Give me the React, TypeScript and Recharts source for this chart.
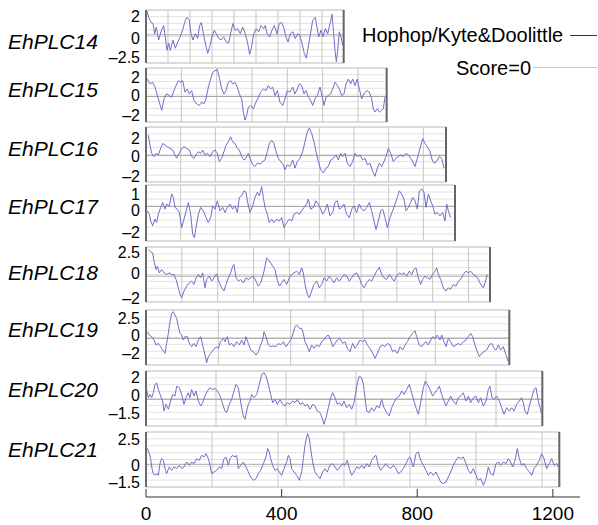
import { LineChart, Line, XAxis, YAxis, ReferenceLine, ReferenceArea } from "recharts";

type Pt = [number, number];

// hydropathy profiles, [position, score]
const plc14: Pt[] = [
  [3, 2.3], [8, 1.7], [15, 1.2], [21, 1.1], [26, 0.1], [31, 0.75], [38, -0.5], [45, 0.3], [53, 0.9], [58, -0.2],
  [63, -1.5], [68, -0.8], [73, -1.5], [81, -0.5], [88, -1.3], [95, -0.7], [103, -0.2], [111, 0.6], [118, 1.4], [123, 1.7],
  [130, 1.4], [135, 0.1], [141, -0.5], [148, 0.1], [155, -0.35], [161, 0.9], [166, 1.2], [171, 0.3], [178, -0.8], [185, -1.8],
  [191, -1.15], [198, -0.2], [205, 0.45], [211, 0.1], [218, -0.35], [225, -0.5], [233, -0.2], [241, -0.7], [248, -0.8], [255, 0.3],
  [261, 1.1], [268, 0.45], [275, 0.6], [283, 0.1], [290, 0.75], [298, 0.1], [305, -0.8], [311, -1.9], [316, -1.3], [323, 0.1],
  [331, 0.6], [338, 0.3], [345, 0.9], [353, 0.6], [358, 0.9], [363, 0.1], [371, -0.2], [378, 0.45], [385, 0.9], [393, 0.1],
  [400, 1.1], [406, 1.2], [413, 0.75], [420, -0.2], [426, -0.7], [433, 0.1], [441, 0.3], [448, -0.35], [455, 0.1], [461, 0],
  [468, -0.8], [475, -1.8], [481, -2.25], [486, -1.3], [493, 0], [500, 1.4], [508, 1.7], [513, 0.75], [518, -0.2], [525, 0.45],
  [531, -0.2], [538, 0.6], [545, 0.1], [553, 1.2], [558, 2.0], [563, 0.1], [567, -1.5], [571, -2.6], [575, -1.5], [580, 0.3],
  [585, -0.2], [590, -1.0],
];

const plc15: Pt[] = [
  [4, 1.85], [12, 1.33], [20, 1.5], [27, 1.0], [34, 0.1], [40, -0.6], [47, -1.47], [54, -0.25], [62, 0.28], [70, 0.1],
  [77, -0.07], [82, 0.46], [90, 1.16], [97, 1.68], [104, 1.5], [110, 1.68], [117, 0.46], [124, 0.8], [130, 0.28], [137, 0.63],
  [144, -0.42], [152, -0.77], [160, -0.95], [167, -0.6], [174, -0.77], [180, -0.25], [187, 1.0], [194, 1.85], [200, 2.56], [207, 2.74],
  [214, 2.84], [220, 2.03], [227, 0.8], [234, 0.28], [240, 0.63], [247, 1.5], [254, 1.68], [260, 1.33], [267, 1.5], [274, 1.0],
  [280, 0.28], [287, -0.25], [292, -1.65], [297, -2.5], [302, -2.0], [307, -1.12], [314, -0.95], [322, -1.3], [330, -0.6], [337, -0.07],
  [344, 0.46], [352, 0.8], [360, 0.63], [367, 1.16], [374, 0.8], [380, 1.0], [387, 0.1], [394, 0.63], [402, -0.6], [410, -0.95],
  [417, -0.25], [424, 0.63], [432, 0.46], [440, 1.0], [447, 0.28], [454, 0.8], [460, 1.33], [467, 1.16], [474, 0.28], [480, 0.63],
  [487, -0.07], [494, -0.42], [500, -0.95], [507, -0.25], [514, 0.1], [522, 1.0], [530, -0.25], [534, -0.95], [540, -0.07], [547, 0.1],
  [554, 0.28], [562, 1.0], [567, 1.5], [574, 1.16], [580, 0.8], [587, 0.1], [594, 0.28], [600, 1.33], [607, 1.85], [614, 1.33],
  [620, 1.85], [627, 1.16], [634, 1.85], [640, 0.8], [647, -0.25], [654, 0.28], [662, 0.63], [670, 0.46], [677, -0.25], [682, -1.3],
  [687, -1.65], [694, -1.3], [700, -1.65], [707, -1.47], [712, -1.3], [717, -0.07],
];

const plc16: Pt[] = [
  [7, 2.18], [12, 1.12], [17, 0.25], [24, -0.1], [30, 0.25], [37, 0.07], [44, 0.77], [50, 1.3], [57, 1.12], [64, 0.95],
  [72, 0.77], [80, 0.6], [87, 0.07], [92, -0.28], [100, 0.25], [107, 0.77], [114, 0.95], [122, 0.77], [130, 0.6], [137, -0.1],
  [144, -0.28], [150, 0.07], [157, 0.42], [164, 0.25], [170, 0.6], [177, 0.07], [184, 0.25], [192, -0.1], [200, 0.42], [207, 0.6],
  [214, 0.25], [220, -0.63], [227, -0.28], [234, 0.42], [240, 1.12], [247, 1.47], [254, 2.0], [260, 1.47], [267, 1.3], [274, 0.77],
  [280, 0.6], [287, -0.1], [294, -0.46], [300, -0.28], [307, 0.25], [312, -0.28], [320, -0.98], [327, -1.16], [334, -0.8], [342, -0.9],
  [350, -0.63], [357, -0.46], [364, 0.42], [370, 1.3], [377, 1.65], [384, 1.3], [390, 0.42], [397, -0.28], [404, -0.63], [412, -0.98],
  [417, -1.5], [424, -0.98], [432, -1.16], [440, -0.46], [447, -1.33], [454, -0.63], [462, -0.28], [470, 0.42], [477, 1.47], [484, 2.53],
  [490, 2.95], [497, 2.35], [504, 1.47], [510, 0.42], [517, -0.63], [524, -1.5], [532, -1.86], [540, -1.33], [547, -1.16], [554, -0.46],
  [562, -0.28], [570, 0.07], [577, -0.46], [584, 0.25], [590, -0.1], [597, 0.25], [604, -0.8], [612, -1.16], [620, -0.63], [627, 0.25],
  [634, -0.1], [642, 0.07], [650, -0.46], [657, -0.28], [664, -0.98], [672, -0.8], [680, -1.68], [687, -2.2], [694, -1.33], [700, -0.8],
  [707, -1.16], [714, -0.63], [720, -0.1], [727, 0.77], [734, 0.25], [742, -0.63], [750, -0.28], [757, -0.1], [764, 0.07], [772, -0.1],
  [780, 0.25], [787, 0.07], [794, -0.28], [800, -0.63], [807, -1.16], [814, -0.28], [822, 0.77], [830, 1.82], [837, 1.3], [844, 0.95],
  [852, 0.42], [860, -0.63], [867, -0.8], [874, -0.46], [880, -0.1], [887, -0.28], [894, -1.33],
];

const plc17: Pt[] = [
  [4, -0.36], [10, -0.64], [14, -1.2], [20, -1.6], [27, -1.05], [32, -1.33], [37, -0.64], [44, -0.08], [50, 0.33], [57, -0.22],
  [62, 0.2], [70, 0.05], [77, 1.03], [82, 0.75], [87, -0.08], [94, -0.22], [100, -0.5], [107, -1.75], [114, -1.05], [122, -0.22],
  [127, 0.33], [134, -0.64], [140, -2.3], [145, -2.58], [150, -1.75], [157, -0.64], [164, -0.08], [172, -0.36], [180, -0.92], [187, -1.33],
  [194, -0.92], [200, 0.05], [207, -0.22], [214, 0.47], [222, -0.36], [230, -0.08], [237, -0.5], [244, -0.08], [252, 0.2], [260, -0.22],
  [267, 0.05], [274, -0.5], [280, 0.75], [287, 0.89], [294, 1.3], [300, 1.17], [304, 0.47], [312, -0.5], [320, 0.05], [327, 0.75],
  [334, 1.17], [340, 0.89], [347, 1.64], [352, 0.75], [357, -0.08], [364, -0.64], [370, -1.33], [377, -1.05], [384, -1.33], [392, -1.05],
  [400, -1.2], [407, -0.92], [414, -1.75], [422, -1.33], [430, -1.05], [437, -1.2], [444, -0.64], [452, -0.5], [460, -0.64], [467, -0.36],
  [474, -0.08], [482, 0.2], [487, 0.61], [494, -0.22], [502, -0.08], [510, 0.47], [517, 0.2], [524, -0.22], [530, -0.64], [537, -0.36],
  [544, 0.2], [552, -0.78], [560, -0.5], [567, 0.33], [574, 0.47], [580, -0.22], [587, -0.08], [594, 0.2], [602, -0.64], [610, -0.92],
  [617, -0.22], [624, 0.05], [632, -0.5], [640, 0.2], [647, -0.22], [654, -0.36], [662, -0.08], [670, 0.33], [677, -0.36], [684, -1.2],
  [690, -1.9], [697, -1.2], [704, -0.36], [710, -0.22], [717, -0.92], [724, -1.75], [732, -0.92], [740, -0.36], [747, 0.2], [754, 0.75],
  [760, 1.3], [767, 1.03], [774, 0.61], [780, -0.36], [787, -0.08], [794, 0.33], [800, 0.75], [807, 0.47], [814, -0.22], [820, 1.3],
  [827, 1.44], [834, 1.17], [840, -0.08], [847, 1.03], [854, 0.47], [860, 0.05], [867, -0.64], [874, -0.5], [882, -0.78], [890, -0.5],
  [897, -1.2], [902, 0.2], [907, -0.36], [914, -0.92],
];

const plc18: Pt[] = [
  [7, 2.67], [12, 2.5], [20, 2.33], [24, 1.5], [30, 0.67], [34, 1.0], [40, 0.33], [47, 0.67], [54, 0.33], [62, 0.17],
  [70, 0.33], [77, 0.17], [84, 0.17], [90, -0.33], [97, -1.17], [102, -1.83], [107, -2.17], [114, -1.5], [122, -1.0], [130, -0.67],
  [137, -0.5], [144, -0.83], [150, -0.17], [157, 0.17], [164, -0.17], [170, 0.33], [177, -1.17], [182, -0.33], [190, 0], [197, -0.5],
  [204, -0.17], [212, 0.23], [220, -0.67], [227, -1.17], [234, -1.5], [240, -0.83], [247, -0.17], [254, 0.33], [260, 1.0], [264, 1.17],
  [270, -0.17], [277, -0.5], [284, -0.33], [292, -0.67], [300, -0.17], [307, -0.33], [314, -0.17], [322, 0], [330, -0.5], [337, -1.0],
  [344, -0.67], [352, 0.17], [357, 1.0], [362, 1.83], [367, 1.67], [374, 1.33], [380, 1.0], [387, 0.67], [392, -0.17], [400, -1.0],
  [407, -0.67], [414, -0.33], [422, -0.83], [430, -0.17], [437, 0.17], [444, 0.33], [452, 0.5], [460, 0.17], [467, 0.83], [472, 0.33],
  [477, -0.83], [484, -1.83], [490, -2.17], [497, -1.5], [504, -0.83], [512, -0.5], [520, -1.17], [527, -0.83], [534, -0.17], [542, -0.5],
  [550, 0], [557, -0.33], [564, -0.67], [572, -0.17], [580, -0.5], [587, -0.17], [594, 0.17], [602, 0], [610, -0.5], [617, -0.17],
  [624, 0.17], [632, 0.33], [640, -0.17], [647, -0.83], [654, -1.17], [662, -0.67], [670, -0.33], [677, -0.5], [684, 0], [692, 0.5],
  [700, 0.9], [707, 0.17], [714, -0.17], [722, -0.33], [730, 0.17], [737, -0.17], [744, -0.5], [752, 0], [760, 0.33], [767, 0.17],
  [774, 0.33], [782, 0], [790, 0.5], [797, 0.17], [804, 0.67], [810, 0.83], [817, -0.17], [824, -0.83], [830, -0.33], [837, 0],
  [844, -0.17], [852, -0.33], [860, 0.17], [867, 0.5], [872, 0.83], [877, 0.17], [884, -0.33], [892, -1.17], [900, -1.5], [907, -1.17],
  [914, -1.33], [922, -0.83], [930, -1.0], [937, -0.5], [944, -0.33], [952, 0.17], [960, 0.5], [967, 0.33], [974, 0.5], [982, 0.17],
  [990, 0], [997, -0.33], [1004, -0.83], [1012, -1.17], [1017, -0.67], [1024, 0.17],
];

const plc19: Pt[] = [
  [4, 0.83], [10, 0.42], [17, 0.21], [24, -0.21], [30, -0.83], [37, -0.63], [44, -1.04], [50, -1.46], [57, -1.88], [62, -0.63],
  [67, 0.63], [72, 2.08], [77, 3.13], [82, 3.33], [87, 2.92], [92, 2.5], [97, 1.46], [102, 0.63], [107, 0.42], [112, -0.21],
  [117, 0.21], [124, 0.21], [130, -0.63], [137, -1.04], [144, -0.63], [150, -1.04], [157, -0.21], [164, 0.21], [170, -0.83], [177, -2.08],
  [182, -3.04], [187, -2.29], [194, -1.88], [202, -1.46], [210, -1.04], [217, -1.25], [224, -0.42], [232, 0], [237, -0.42], [244, 0.21],
  [250, -0.83], [257, -0.63], [264, -1.04], [272, -0.42], [280, -0.83], [287, -0.21], [294, -0.83], [300, 0.21], [307, -0.63], [314, -1.46],
  [322, -1.67], [330, -2.08], [337, -1.67], [344, -0.83], [350, -0.21], [354, 0.83], [360, 0.21], [367, -0.83], [374, -1.04], [382, -0.96],
  [390, -1.04], [397, -0.63], [404, -0.83], [412, -0.42], [420, -1.04], [427, -0.63], [434, -0.21], [440, 0.42], [447, 1.46], [452, 1.67],
  [460, 1.25], [467, 1.25], [472, 0.63], [477, -0.42], [484, -1.04], [490, -1.67], [497, -0.83], [504, -1.25], [512, -0.83], [520, -1.04],
  [527, -0.42], [534, -0.21], [540, 0.21], [547, 0.42], [554, -0.21], [560, -1.04], [567, -0.63], [574, -0.21], [582, 0], [590, -0.63],
  [597, -0.42], [604, -1.25], [612, -1.67], [620, -0.63], [627, -1.25], [634, -0.83], [642, -0.21], [650, -0.42], [657, -0.21], [664, -0.83],
  [672, -1.25], [680, -1.88], [687, -2.5], [694, -1.88], [702, -1.04], [710, -0.83], [717, -1.04], [724, -0.63], [732, -0.83], [740, -1.67],
  [747, -1.46], [754, -1.88], [762, -1.04], [770, -1.46], [777, -0.83], [784, -0.42], [792, 0.21], [800, 0.63], [807, 0.96], [812, 0.21],
  [820, -0.83], [827, -1.04], [834, -0.63], [840, -0.42], [847, -0.83], [854, -0.21], [860, 0.21], [867, 0], [874, 0.42], [882, -0.21],
  [887, 0.42], [894, -0.42], [900, -1.04], [907, 0], [914, -0.42], [922, -1.04], [930, -0.83], [937, -0.63], [944, -0.83], [952, -0.42],
  [960, -0.21], [967, 0.21], [974, 0.63], [980, 0.21], [987, -0.83], [994, -1.67], [1000, -2.29], [1007, -1.88], [1014, -1.67], [1022, -1.46],
  [1030, -0.83], [1037, -0.63], [1044, -1.25], [1050, -1.46], [1057, -0.83], [1064, -1.46], [1072, -1.04], [1080, -2.08], [1087, -2.92],
];

const plc20: Pt[] = [
  [2, 0.9], [7, 0.15], [12, 0.45], [17, 0.15], [22, 0.6], [27, 1.36], [32, 1.5], [37, 0.9], [44, 0.3], [50, -0.15],
  [54, -1.06], [60, -0.45], [67, -0.9], [74, -0.15], [80, 0.45], [87, 0.3], [92, 1.2], [100, 1.06], [107, 0.45], [114, -0.45],
  [120, 0.15], [127, 0.6], [132, 0.15], [137, 0.9], [144, 0.3], [150, 0.76], [157, -0.15], [164, -0.6], [170, -0.3], [177, 0.3],
  [184, 0.76], [192, 1.06], [200, 0.9], [207, 1.0], [214, 0.76], [220, 0.45], [227, -0.15], [232, -0.6], [237, -1.06], [242, -1.2],
  [250, -0.45], [257, 0], [264, 0.76], [270, 1.36], [277, 1.06], [282, 0.15], [287, -0.76], [292, -1.5], [297, -1.8], [302, -1.06],
  [307, -0.45], [312, -0.15], [317, 0.45], [324, 0.15], [332, 0.45], [340, 1.36], [347, 2.27], [354, 2.42], [360, 2.12], [367, 1.36],
  [374, 0.45], [380, -0.3], [387, 0], [394, -0.45], [402, 0], [410, -0.45], [417, -0.6], [424, -0.3], [432, -0.45], [440, -0.15],
  [447, -0.3], [454, 0], [462, -0.45], [470, -0.3], [477, -0.6], [484, -0.45], [492, -0.9], [500, -0.45], [507, -0.6], [514, -1.06],
  [522, -1.2], [530, -1.8], [534, -2.27], [540, -1.67], [547, -0.76], [554, 0.15], [560, 0.6], [567, 0.15], [574, -0.45], [580, -0.3],
  [587, -0.6], [594, -0.15], [602, -0.76], [610, -0.45], [617, -0.9], [624, -0.3], [630, 0.76], [634, 1.5], [640, 2.12], [647, 1.97],
  [652, 1.36], [657, 0.15], [662, -1.06], [670, -1.2], [677, -0.76], [684, -1.06], [692, -0.6], [700, -0.76], [707, 0], [714, -0.76],
  [722, -1.2], [730, -1.5], [737, -0.76], [744, -0.3], [752, 0.15], [760, 0.3], [767, 0.76], [774, 0.45], [782, 0.9], [790, 1.36],
  [797, 0.6], [804, -0.15], [810, -0.76], [817, -1.36], [824, -0.3], [832, 1.06], [838, 1.67], [844, 1.36], [852, 0.9], [860, 0.3],
  [867, 0.6], [874, 0.9], [880, 1.2], [887, 0.45], [894, -0.15], [900, -0.6], [907, -0.15], [914, 0.3], [922, -0.15], [930, -0.45],
  [937, 0.15], [944, 0.3], [952, 0.6], [960, -0.15], [967, 0.3], [974, -0.3], [982, 0.15], [990, 0.3], [997, -0.3], [1004, 0.15],
  [1012, -0.6], [1020, -0.15], [1027, 0.9], [1032, 1.2], [1038, 0.15], [1044, 0], [1052, 0.3], [1060, -0.15], [1067, -0.76], [1074, -1.36],
  [1082, -0.76], [1090, -1.06], [1097, -0.76], [1104, -1.06], [1112, -0.45], [1120, -0.15], [1127, 0.15], [1132, -0.3], [1137, -1.06], [1144, -1.36],
  [1150, -0.6], [1157, 0.15], [1164, 0.9], [1170, 1.06], [1177, -0.15], [1182, -0.76], [1187, -1.36],
];

const plc21: Pt[] = [
  [0, 1.73], [4, 1.57], [10, 1.07], [14, 0.57], [18, -0.43], [22, -0.93], [27, -1.1], [32, -0.93], [37, -1.1], [42, 0.07],
  [47, 0.57], [52, 0.4], [57, -0.43], [62, -0.93], [70, -0.27], [77, -0.6], [84, -0.27], [92, -0.43], [100, -0.1], [107, -0.43],
  [114, -0.27], [122, 0.23], [130, -0.1], [137, 0.23], [144, 0.07], [152, 0.57], [160, 0.4], [167, 0.9], [174, 0.73], [180, 1.07],
  [187, 0.57], [192, -0.1], [197, -0.93], [204, -0.77], [212, -0.6], [220, -0.27], [227, -0.43], [234, 0.57], [240, 0.73], [247, -0.1],
  [252, 0.57], [260, 0.9], [267, 0.73], [272, 0.9], [277, -0.43], [284, -0.1], [292, 0.23], [300, -0.27], [307, -0.77], [314, -1.27],
  [322, -1.6], [330, -1.43], [337, -0.93], [344, -0.6], [352, 0.07], [360, 0.73], [365, 1.57], [370, 1.23], [374, 0.57], [380, -0.1],
  [387, -0.6], [394, -0.43], [400, -0.77], [407, -1.1], [414, -0.43], [422, 0.23], [427, 0.9], [432, 0.57], [437, -0.43], [444, -0.77],
  [452, -1.1], [460, -1.6], [467, -0.77], [472, 0.57], [477, 1.9], [482, 2.73], [485, 3.07], [490, 2.57], [494, 1.57], [500, 0.23],
  [507, -0.77], [514, -1.1], [522, -1.43], [530, -0.77], [537, -0.43], [544, -0.77], [552, -0.1], [560, 0.07], [567, -0.27], [574, -0.6],
  [582, -0.27], [590, 0.07], [597, -0.1], [604, 0.4], [610, -0.43], [617, -1.1], [624, -0.77], [632, -0.27], [640, -0.43], [647, -0.1],
  [654, -0.43], [662, 0.07], [670, -0.27], [677, 0.4], [684, 0.73], [690, 0.9], [697, -0.1], [704, -0.6], [712, -0.27], [720, 0.07],
  [727, -0.27], [734, -0.43], [742, -0.1], [750, -0.43], [757, -0.93], [764, -0.77], [772, -0.43], [780, 0.07], [787, 0.57], [792, 0.73],
  [797, 0.23], [802, -0.27], [810, 1.07], [817, 1.23], [824, 0.4], [832, -0.1], [840, -0.6], [847, -1.1], [854, -0.77], [862, -1.1],
  [870, -0.77], [877, -1.27], [884, -1.77], [892, -1.93], [900, -1.77], [907, -1.27], [914, -0.77], [922, -0.1], [930, 0.4], [937, 0.73],
  [944, 0.57], [952, 0.73], [960, 0.07], [967, -0.6], [974, -0.93], [982, -0.43], [990, -1.1], [997, -1.6], [1004, -1.43], [1012, -2.1],
  [1020, -1.43], [1027, -0.27], [1034, -0.93], [1042, -1.1], [1050, 0.07], [1057, 0.23], [1064, -0.1], [1072, 0.23], [1080, 0.07], [1087, 0.57],
  [1094, 0.23], [1100, -0.27], [1107, 0.4], [1114, 1.57], [1120, 0.57], [1127, -0.1], [1134, 0.07], [1142, -0.43], [1150, -0.77], [1157, -1.1],
  [1164, -0.43], [1172, -0.1], [1180, 0.4], [1187, 1.07], [1194, 0.57], [1202, -0.43], [1210, 0.07], [1217, 0.57], [1224, -0.1], [1232, 0.07],
  [1237, -0.27],
];

const names = ["EhPLC14", "EhPLC15", "EhPLC16", "EhPLC17", "EhPLC18", "EhPLC19", "EhPLC20", "EhPLC21"];
const profiles = [plc14, plc15, plc16, plc17, plc18, plc19, plc20, plc21];
const lengths = [593, 722, 900, 927, 1032, 1090, 1189, 1240];
const yTicks = [[2, 0, -2.5], [2, 0, -2], [2, 0, -2], [1, 0, -2], [2.5, 0, -2], [2.5, 0, -2], [2, 0, -1.5], [2.5, 0, -1.5]];
const yDomains = [[-2.73, 2.41], [-2.7, 3.02], [-2.81, 3.05], [-2.86, 1.78], [-2.6, 2.93], [-3.33, 3.54], [-2.42, 2.58], [-2.27, 3.23]];
const axisTicks = [0, 400, 800, 1200];

// layout (px)
const panelTops = [10, 68, 127, 185, 247, 310, 371, 432];
const panelHeights = [53, 54, 55, 56, 55, 55, 55, 55];
const labelCenters = [42, 90, 149, 207, 273, 330, 390, 450];
const tickNudge = [[2, 3, -3], [0, -1, 0], [1, 1, 2], [0, 4, 2], [1, -3, 2], [0, -3, -1], [0, -4, -3], [0, 1, 3]];
const gridSteps = [66, 106, 104, 104, 107.5, 217, 210, 198];
const AXIS_W = 146;
const PAD = 12;
const FONT = "'Liberation Sans', Arial, sans-serif";
const LINE = "#6e6ec8";

const fmt = (v: number) => (v < 0 ? "\u2013" + Math.abs(v) : String(v));

function YTick(props: any) {
  const { x, y, payload, panel } = props;
  const k = yTicks[panel].indexOf(payload.value);
  const dy = k >= 0 ? tickNudge[panel][k] : 0;
  return (
    <text x={x} y={y + dy} dy="0.36em" textAnchor="end" fontSize={16} fontFamily={FONT} fill="#000">
      {fmt(payload.value)}
    </text>
  );
}

function Panel({ i }: { i: number }) {
  const rows = profiles[i].map(([x, y]) => ({ x, y }));
  const len = lengths[i];
  const [yMin, yMax] = yDomains[i];
  const plotW = len / 3;
  const vLines: number[] = [];
  for (let v = gridSteps[i]; v < len - 8; v += gridSteps[i]) vLines.push(v);
  const hLines: number[] = [];
  for (let k = 1; k < 8; k++) hLines.push(yMin + (k * (yMax - yMin)) / 8);

  return (
    <div style={{ position: "absolute", left: 0, top: panelTops[i] - PAD }}>
      <LineChart
        width={AXIS_W + plotW + 4}
        height={panelHeights[i] + 2 * PAD}
        data={rows}
        margin={{ top: PAD, right: 4, bottom: PAD, left: 0 }}
      >
        <XAxis type="number" dataKey="x" domain={[0, len]} hide allowDataOverflow />
        <YAxis
          type="number"
          domain={[yMin, yMax]}
          ticks={yTicks[i]}
          width={AXIS_W}
          axisLine={false}
          tickLine={false}
          tickSize={0}
          tickMargin={6}
          interval={0}
          allowDataOverflow
          tick={(p: any) => <YTick {...p} panel={i} />}
        />
        <ReferenceArea x1={0} x2={len} y1={yMin} y2={yMax} fill="#fff" fillOpacity={1} stroke="#b8b8b8" />
        {hLines.map((v) => (
          <ReferenceLine key={"h" + v} y={v} stroke="#e2e2e2" />
        ))}
        {vLines.map((v) => (
          <ReferenceLine key={"v" + v} x={v} stroke="#c6c6c6" />
        ))}
        <ReferenceLine y={0} stroke="#a8a8a8" />
        <ReferenceLine x={0} stroke="#444" strokeWidth={1.5} />
        <ReferenceLine x={len} stroke="#666" strokeWidth={2} />
        <Line type="linear" dataKey="y" stroke={LINE} strokeWidth={1} dot={false} isAnimationActive={false} />
      </LineChart>
    </div>
  );
}

function AxisTick(props: any) {
  const { x, y, payload } = props;
  return (
    <g>
      <line x1={x} x2={x} y1={y - 8} y2={y} stroke="#333" />
      <text x={x} y={y + 23} textAnchor="middle" fontSize={19} fontFamily={FONT} fill="#000">
        {payload.value}
      </text>
    </g>
  );
}

export default function App() {
  return (
    <div style={{ position: "absolute", left: 0, top: 0, width: 598, height: 525, background: "#fff", fontFamily: FONT, overflow: "hidden" }}>
      {names.map((n, i) => (
        <Panel key={n} i={i} />
      ))}
      {names.map((n, i) => (
        <div
          key={n}
          style={{ position: "absolute", left: 8, top: labelCenters[i] - 13, height: 26, lineHeight: "26px", fontSize: 21, fontStyle: "italic" }}
        >
          {n}
        </div>
      ))}
      <div style={{ position: "absolute", left: 0, top: 477 }}>
        <LineChart width={598} height={50} data={[{ x: 0 }, { x: 1280 }]} margin={{ top: 10, right: 18, bottom: 0, left: 146 }}>
          <XAxis
            type="number"
            dataKey="x"
            domain={[0, 1280]}
            ticks={axisTicks}
            height={30}
            interval={0}
            axisLine={{ stroke: "#333" }}
            tickLine={false}
            tickSize={0}
            tickMargin={0}
            tick={(p: any) => <AxisTick {...p} />}
          />
        </LineChart>
      </div>
      <div style={{ position: "absolute", left: 362, top: 23, fontSize: 20, lineHeight: "24px", whiteSpace: "nowrap" }}>
        Hophop/Kyte&amp;Doolittle
      </div>
      <div style={{ position: "absolute", left: 570, top: 35, width: 27, borderTop: "1px solid #333" }} />
      <div style={{ position: "absolute", left: 456, top: 56, fontSize: 20, lineHeight: "24px", whiteSpace: "nowrap" }}>
        Score=0
      </div>
      <div style={{ position: "absolute", left: 533, top: 67, width: 64, borderTop: "1px solid #c8c8c8" }} />
    </div>
  );
}
